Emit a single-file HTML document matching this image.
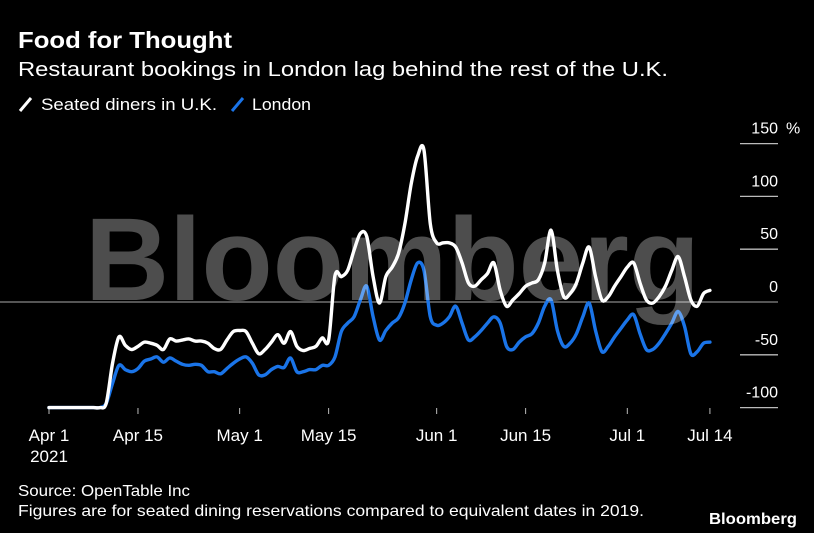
<!DOCTYPE html>
<html><head><meta charset="utf-8"><style>
html,body{margin:0;padding:0;background:#000;}
svg{display:block;font-family:"Liberation Sans",sans-serif;}
</style></head><body>
<svg id="chart" width="814" height="533" viewBox="0 0 814 533">
<rect width="814" height="533" fill="#000"/>
<text x="18" y="48" fill="#fff" font-size="23" font-weight="bold" textLength="214" lengthAdjust="spacingAndGlyphs">Food for Thought</text>
<text x="18" y="76" fill="#fff" font-size="20" textLength="650" lengthAdjust="spacingAndGlyphs">Restaurant bookings in London lag behind the rest of the U.K.</text>
<g>
<line x1="20" y1="111" x2="31" y2="98" stroke="#fff" stroke-width="3"/>
<text x="41" y="110" fill="#fff" font-size="17" textLength="176" lengthAdjust="spacingAndGlyphs">Seated diners in U.K.</text>
<line x1="232" y1="111" x2="243" y2="98" stroke="#1a74e8" stroke-width="3"/>
<text x="252" y="110" fill="#fff" font-size="17" textLength="59" lengthAdjust="spacingAndGlyphs">London</text>
</g>
<g id="yaxis"></g>
<g id="xaxis"></g>
<g id="series"></g>
<text x="85" y="300" fill="#fff" fill-opacity="0.3" font-size="118" font-weight="bold" textLength="615" lengthAdjust="spacingAndGlyphs">Bloomberg</text>
<text x="18" y="496" fill="#fff" font-size="16" textLength="172" lengthAdjust="spacingAndGlyphs">Source: OpenTable Inc</text>
<text x="18" y="516" fill="#fff" font-size="16" textLength="626" lengthAdjust="spacingAndGlyphs">Figures are for seated dining reservations compared to equivalent dates in 2019.</text>
<text x="709" y="524" fill="#fff" font-size="16" font-weight="bold" textLength="88" lengthAdjust="spacingAndGlyphs">Bloomberg</text>
</svg>
<script>
const yTicks = [150, 100, 50, 0, -50, -100];
const xTickDays = [0, 14, 30, 44, 61, 75, 91, 104];
const xTickLabels = ["Apr 1", "Apr 15", "May 1", "May 15", "Jun 1", "Jun 15", "Jul 1", "Jul 14"];
const ukValues = [-100,-100,-100,-100,-100,-100,-100,-100,-100,-96,-58,-33,-41,-45,-42,-38,-39,-41,-45,-35,-37,-36,-35,-37,-37,-39,-44,-45,-36,-28,-27,-28,-39,-49,-45,-38,-31,-39,-28,-42,-46,-44,-42,-34,-36,25,24,30,49,65,62,24,-1,24,33,46,74,112,138,144,74,56,56,56,52,37,18,15,21,27,37,11,-4,2,8,15,18,21,37,68,30,5,8,18,37,52,24,2,5,15,24,33,37,18,2,-1,5,15,30,43,24,2,-4,8,11];
const londonValues = [-100,-100,-100,-100,-100,-100,-100,-100,-100,-96,-77,-60,-64,-66,-63,-56,-54,-52,-57,-53,-56,-59,-60,-59,-60,-66,-66,-68,-63,-58,-54,-52,-58,-69,-69,-64,-61,-62,-53,-66,-66,-64,-64,-60,-60,-52,-28,-20,-14,2,15,-14,-36,-27,-20,-15,-1,21,37,30,-14,-22,-20,-14,-4,-20,-36,-33,-27,-20,-14,-20,-42,-45,-38,-33,-30,-20,-4,2,-27,-42,-39,-30,-14,-1,-27,-47,-42,-33,-25,-17,-12,-30,-45,-45,-39,-30,-20,-9,-23,-49,-47,-39,-38];

const NS = "http://www.w3.org/2000/svg";
const xScale = d => 49 + d * 6.355;
const yScale = v => 302 - v * 1.056;
function mk(tag, attrs, parent, text) {
  const el = document.createElementNS(NS, tag);
  for (const k in attrs) el.setAttribute(k, attrs[k]);
  if (text !== undefined) el.textContent = text;
  parent.appendChild(el);
  return el;
}
const yaxis = document.getElementById('yaxis');
yTicks.forEach(v => {
  const y = yScale(v);
  if (v === 0) {
    const zl = mk('line', {x1: 0, x2: 778, y1: y, y2: y, stroke: '#aaa', 'stroke-width': 1}, yaxis);
    
    
  } else {
    const gl = mk('line', {x1: 740, x2: 778, y1: y, y2: y, stroke: '#bbb', 'stroke-width': 1.3}, yaxis);
    
    
  }
  const t = mk('text', {x: 778, y: y - 10, fill: '#fff', 'font-size': 16, 'text-anchor': 'end'}, yaxis, String(v));
  
  
});
const pct = mk('text', {x: 786, y: yScale(150) - 10, fill: '#fff', 'font-size': 16}, yaxis, '%');



const xaxis = document.getElementById('xaxis');
xTickDays.forEach((d, i) => {
  const x = xScale(d);
  const tk = mk('line', {x1: x, x2: x, y1: 408, y2: 414, stroke: '#bbb', 'stroke-width': 1}, xaxis);
  
  
  const t = mk('text', {x: x, y: 441, fill: '#fff', 'font-size': 17, 'text-anchor': 'middle'}, xaxis, xTickLabels[i]);
  
  
});
const yr = mk('text', {x: xScale(0), y: 462, fill: '#fff', 'font-size': 17, 'text-anchor': 'middle'}, xaxis, '2021');



function smoothPath(vals) {
  const p = vals.map((v, i) => [xScale(i), yScale(v)]);
  let d = 'M' + p[0][0] + ',' + p[0][1];
  for (let i = 0; i < p.length - 1; i++) {
    const p0 = p[i - 1] || p[i], p1 = p[i], p2 = p[i + 1], p3 = p[i + 2] || p2;
    const t = 0.16;
    const c1 = [p1[0] + (p2[0] - p0[0]) * t, p1[1] + (p2[1] - p0[1]) * t];
    const c2 = [p2[0] - (p3[0] - p1[0]) * t, p2[1] - (p3[1] - p1[1]) * t];
    d += ' C' + c1.join(',') + ' ' + c2.join(',') + ' ' + p2.join(',');
  }
  return d;
}
const series = document.getElementById('series');
const lon = mk('path', {d: smoothPath(londonValues), fill: 'none', stroke: '#1a74e8', 'stroke-width': 3.4, 'stroke-linejoin': 'round', 'stroke-linecap': 'round'}, series);


const uk = mk('path', {d: smoothPath(ukValues), fill: 'none', stroke: '#fff', 'stroke-width': 3.4, 'stroke-linejoin': 'round', 'stroke-linecap': 'round'}, series);


</script>
</body></html>
